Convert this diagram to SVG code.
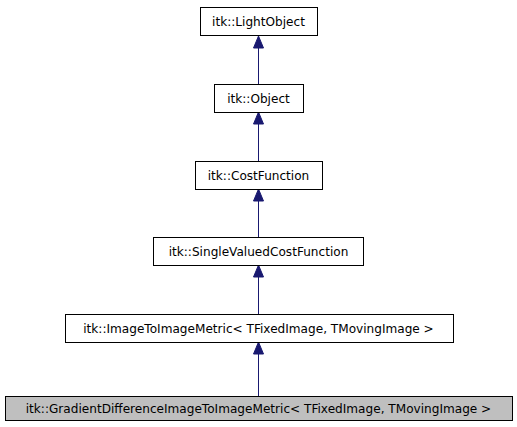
<svg xmlns="http://www.w3.org/2000/svg" width="517" height="427" viewBox="0 0 517 427">
<defs>
<style>
.box{fill:#ffffff;stroke:#000000;stroke-width:1}
.cur{fill:#bfbfbf;stroke:#000000;stroke-width:1}
.lbl{font-family:"DejaVu Sans",sans-serif;font-size:12.1px;fill:#000000;text-anchor:middle}
.edge{stroke:#191970;stroke-width:1;fill:none}
.head{fill:#191970;stroke:#191970;stroke-width:1}
</style>
</defs>
<rect width="517" height="427" fill="#ffffff"/>
<g id="connectors">
<path class="edge" d="M258.5,84 V37"/>
<path class="head" d="M258.5,36 L253.5,48 L263.5,48 Z"/>
<path class="edge" d="M258.5,161 V113"/>
<path class="head" d="M258.5,112 L253.5,124 L263.5,124 Z"/>
<path class="edge" d="M258.5,237 V190"/>
<path class="head" d="M258.5,189 L253.5,201 L263.5,201 Z"/>
<path class="edge" d="M258.5,314 V266"/>
<path class="head" d="M258.5,265 L253.5,277 L263.5,277 Z"/>
<path class="edge" d="M258.5,396 V343"/>
<path class="head" d="M258.5,342 L253.5,354 L263.5,354 Z"/>
</g>
<g id="n_lightobject"><rect class="box" x="200.5" y="7.5" width="117" height="28"/><text class="lbl" x="258.5" y="26">itk::LightObject</text></g>
<g id="n_object"><rect class="box" x="214.5" y="84.5" width="89" height="28"/><text class="lbl" x="258.5" y="103">itk::Object</text></g>
<g id="n_costfunction"><rect class="box" x="195.5" y="161.5" width="127" height="28"/><text class="lbl" x="258.5" y="180">itk::CostFunction</text></g>
<g id="n_singlevalued"><rect class="box" x="153.5" y="237.5" width="210" height="28"/><text class="lbl" x="258.5" y="256">itk::SingleValuedCostFunction</text></g>
<g id="n_imagetoimage"><rect class="box" x="65.5" y="314.5" width="388" height="28"/><text class="lbl" x="258.5" y="333">itk::ImageToImageMetric&lt; TFixedImage, TMovingImage &gt;</text></g>
<g id="n_gradient"><rect class="cur" x="5.5" y="396.5" width="507" height="24"/><text class="lbl" x="258.5" y="413">itk::GradientDifferenceImageToImageMetric&lt; TFixedImage, TMovingImage &gt;</text></g>
</svg>
